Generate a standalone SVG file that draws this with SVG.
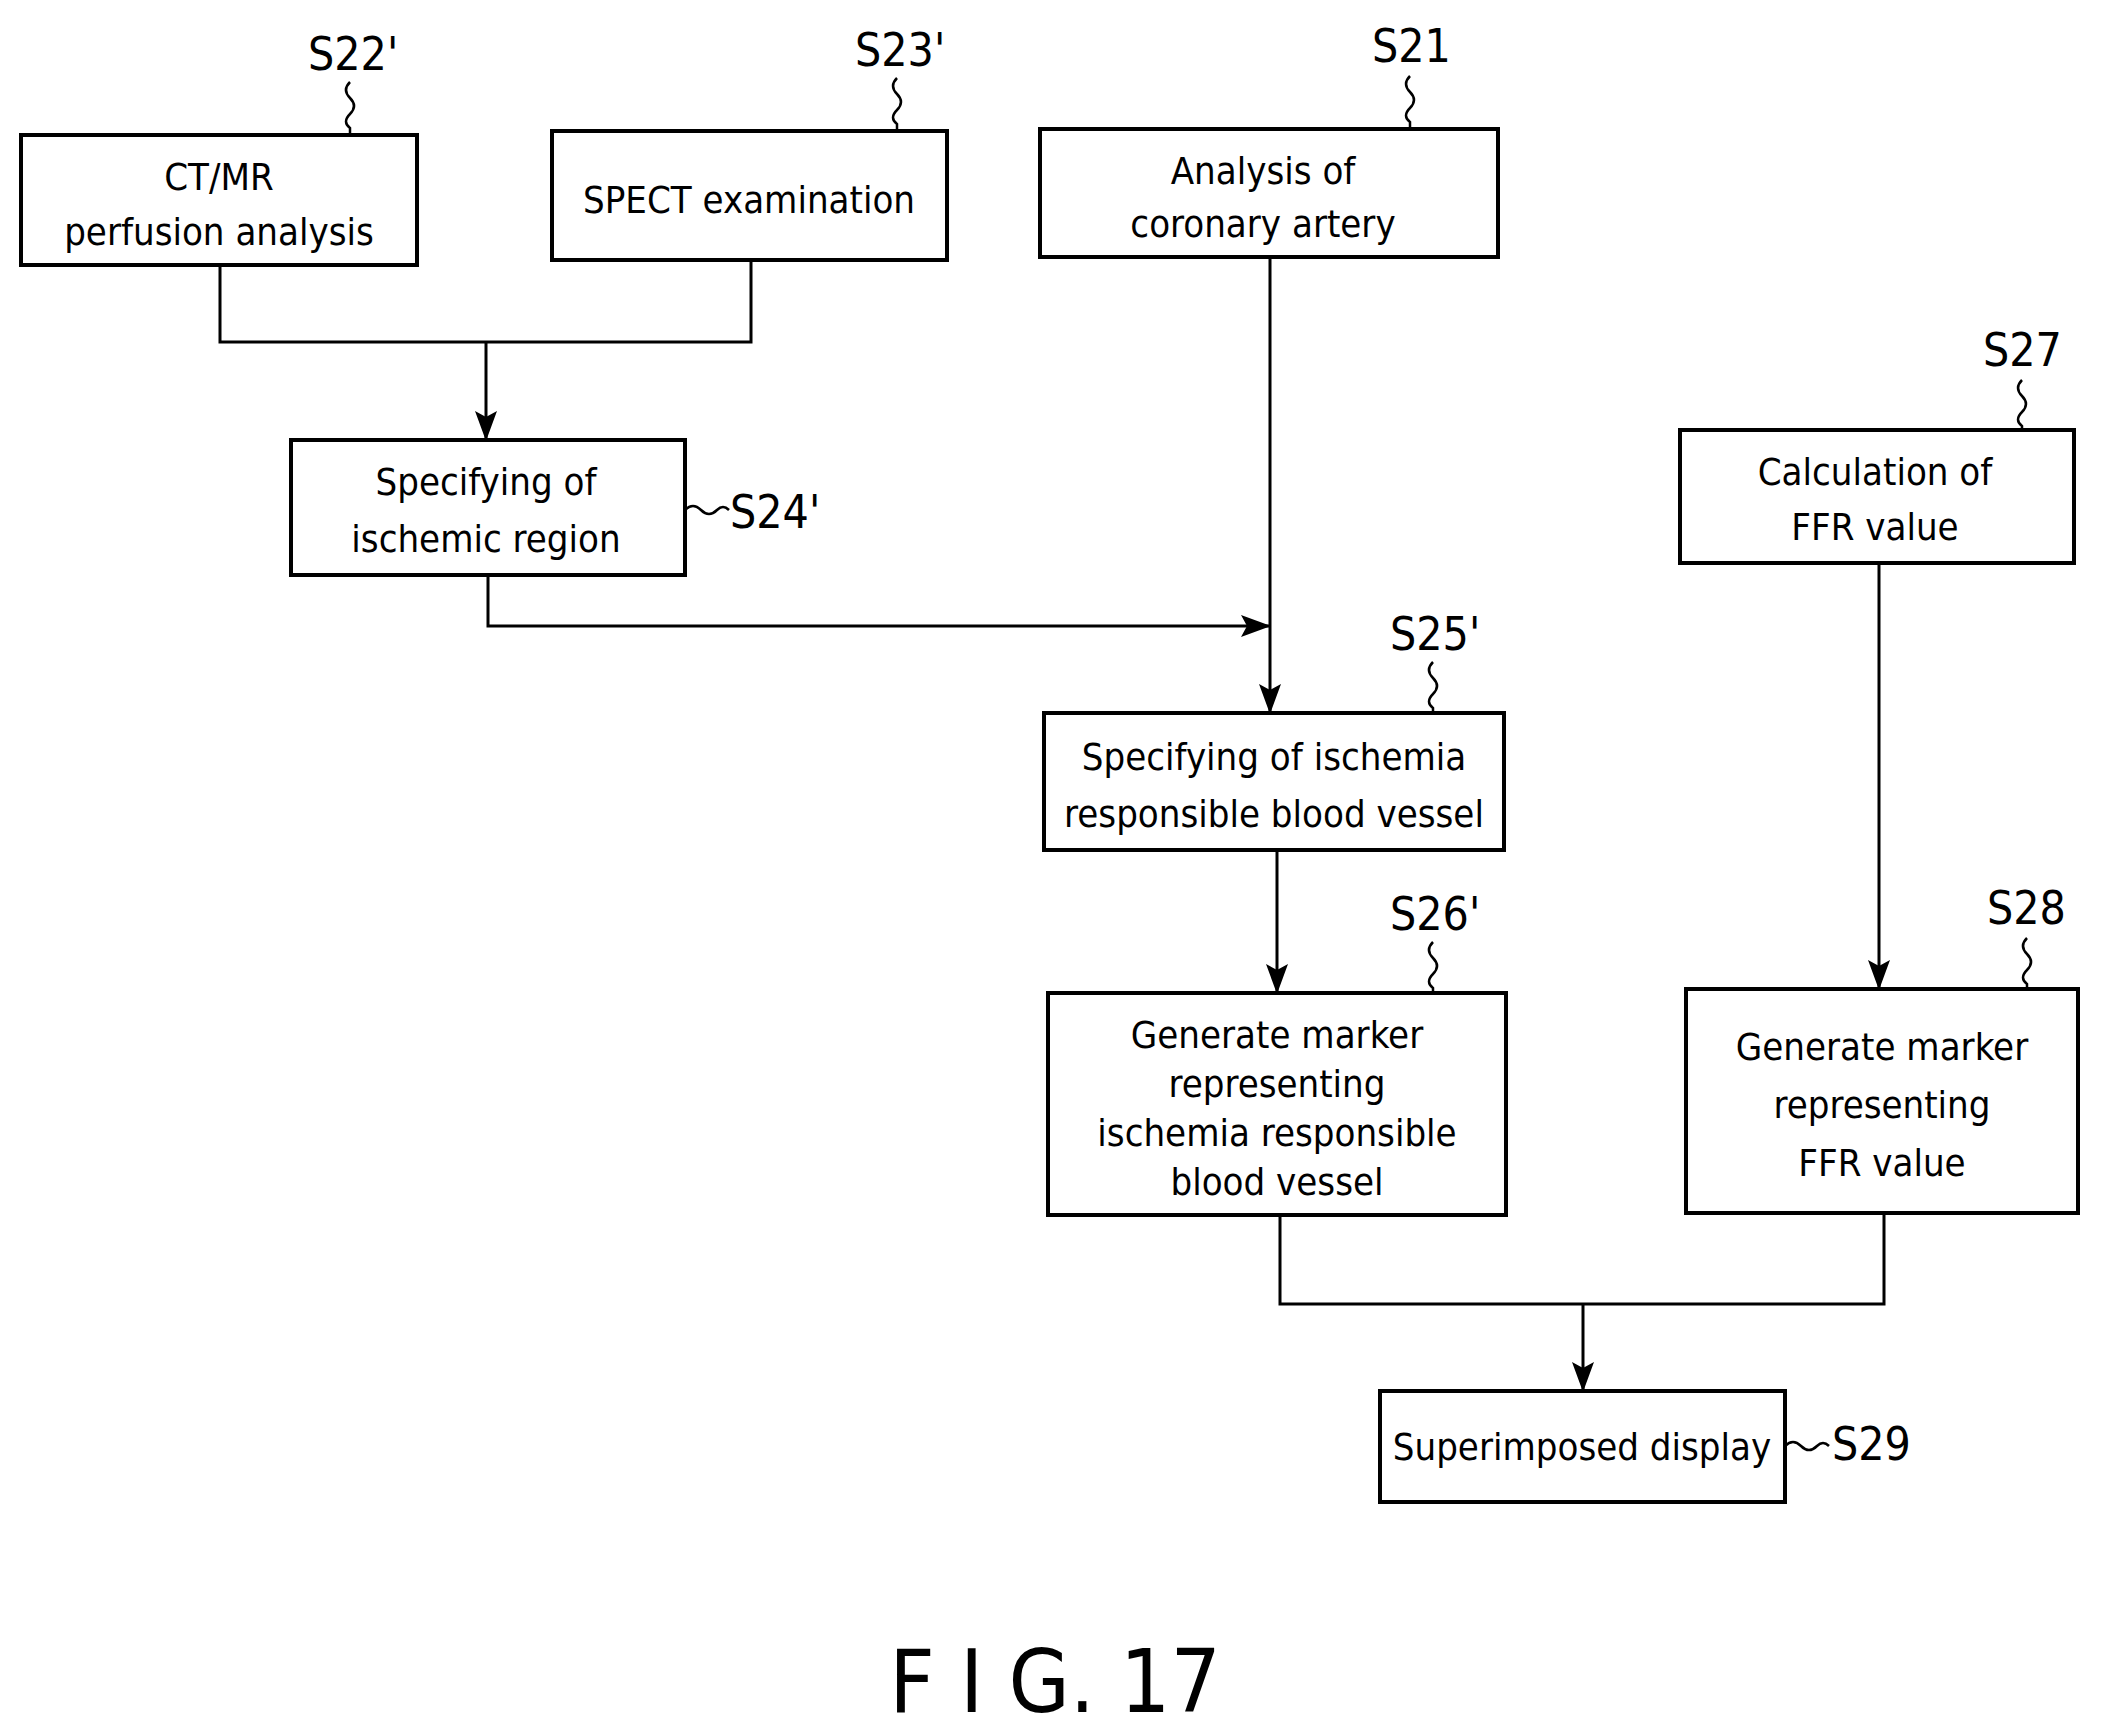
<svg xmlns="http://www.w3.org/2000/svg" width="2102" height="1736" viewBox="0 0 2102 1736">
<style>
.b{fill:#fff;stroke:#000;stroke-width:4}
.t{font-family:"DejaVu Sans Condensed","Liberation Sans",sans-serif;font-size:38px;text-anchor:middle;fill:#000}
.l{font-family:"DejaVu Sans Condensed","Liberation Sans",sans-serif;font-size:46px;fill:#000}
.c{fill:none;stroke:#000;stroke-width:3}
.s{fill:none;stroke:#000;stroke-width:2.5}
</style>
<defs>
<marker id="A" markerWidth="30" markerHeight="22" refX="29" refY="11" orient="auto" markerUnits="userSpaceOnUse"><path d="M0,0 L30,11 L0,22 L6,11 Z"/></marker></defs>
<g id="connectors">
<path class="c" d="M220,265 V342 H751 V260"/><path class="c" d="M486,342 V440" marker-end="url(#A)"/>
<path class="c" d="M1270,257 V713" marker-end="url(#A)"/>
<path class="c" d="M488,575 V626 H1270" marker-end="url(#A)"/>
<path class="c" d="M1277,850 V993" marker-end="url(#A)"/>
<path class="c" d="M1879,563 V989" marker-end="url(#A)"/>
<path class="c" d="M1280,1215 V1304 H1884 V1213"/><path class="c" d="M1583,1304 V1391" marker-end="url(#A)"/>
</g>
<g id="n22"><rect class="b" x="21" y="135" width="396" height="130"/><text class="t" x="219" y="190">CT/MR</text><text class="t" x="219" y="245">perfusion analysis</text>
<text class="l" x="308" y="70">S22'</text><path class="s" d="M350,82 q-8,8 0,16 q8,8 0,16 q-8,8 0,14 V135"/></g>
<g id="n23"><rect class="b" x="552" y="131" width="395" height="129"/><text class="t" x="749" y="213">SPECT examination</text>
<text class="l" x="855" y="66">S23'</text><path class="s" d="M897,78 q-8,8 0,16 q8,8 0,16 q-8,8 0,14 V131"/></g>
<g id="n21"><rect class="b" x="1040" y="129" width="458" height="128"/><text class="t" x="1263" y="184">Analysis of</text><text class="t" x="1263" y="237">coronary artery</text>
<text class="l" x="1372" y="62">S21</text><path class="s" d="M1410,76 q-8,8 0,16 q8,8 0,16 q-8,8 0,14 V129"/></g>
<g id="n24"><rect class="b" x="291" y="440" width="394" height="135"/><text class="t" x="486" y="495">Specifying of</text><text class="t" x="486" y="552">ischemic region</text>
<text class="l" x="730" y="528">S24'</text><path class="s" d="M685,510 q8,-8 16,0 q8,8 16,0 q6,-6 12,0"/></g>
<g id="n27"><rect class="b" x="1680" y="430" width="394" height="133"/><text class="t" x="1875" y="485">Calculation of</text><text class="t" x="1875" y="540">FFR value</text>
<text class="l" x="1983" y="366">S27</text><path class="s" d="M2022,380 q-8,8 0,16 q8,8 0,16 q-8,8 0,14 V430"/></g>
<g id="n25"><rect class="b" x="1044" y="713" width="460" height="137"/><text class="t" x="1274" y="770">Specifying of ischemia</text><text class="t" x="1274" y="827">responsible blood vessel</text>
<text class="l" x="1390" y="650">S25'</text><path class="s" d="M1433,662 q-8,8 0,16 q8,8 0,16 q-8,8 0,14 V713"/></g>
<g id="n26"><rect class="b" x="1048" y="993" width="458" height="222"/><text class="t" x="1277" y="1048">Generate marker</text><text class="t" x="1277" y="1097">representing</text><text class="t" x="1277" y="1146">ischemia responsible</text><text class="t" x="1277" y="1195">blood vessel</text>
<text class="l" x="1390" y="930">S26'</text><path class="s" d="M1433,942 q-8,8 0,16 q8,8 0,16 q-8,8 0,14 V993"/></g>
<g id="n28"><rect class="b" x="1686" y="989" width="392" height="224"/><text class="t" x="1882" y="1060">Generate marker</text><text class="t" x="1882" y="1118">representing</text><text class="t" x="1882" y="1176">FFR value</text>
<text class="l" x="1987" y="924">S28</text><path class="s" d="M2027,938 q-8,8 0,16 q8,8 0,16 q-8,8 0,14 V989"/></g>
<g id="n29"><rect class="b" x="1380" y="1391" width="405" height="111"/><text class="t" x="1582" y="1460">Superimposed display</text>
<text class="l" x="1832" y="1460">S29</text><path class="s" d="M1785,1446 q8,-8 16,0 q8,8 16,0 q6,-6 12,0"/></g>
<text x="1055" y="1712" style="font-family:'DejaVu Sans Condensed',sans-serif;font-size:88px;text-anchor:middle">F I G. 17</text>
</svg>
